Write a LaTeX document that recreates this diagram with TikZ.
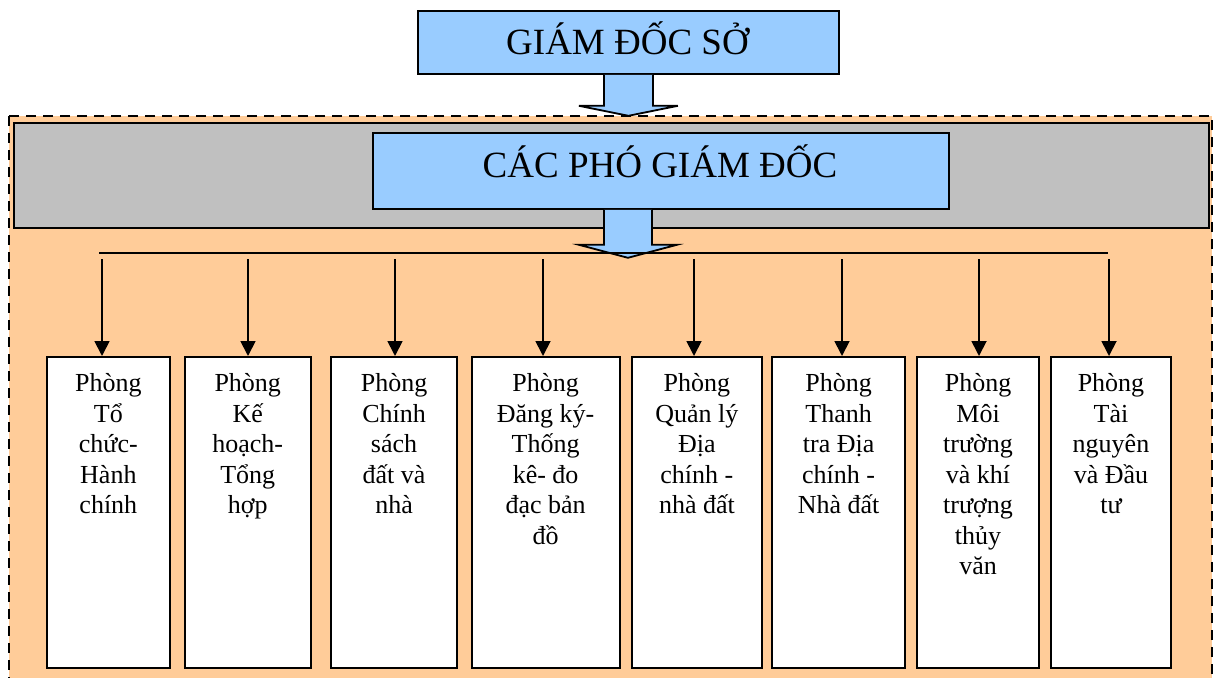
\documentclass[tikz,border=0pt]{standalone}
\usepackage{fontspec}
\setmainfont{Liberation Serif}
\usetikzlibrary{arrows.meta,calc}
\definecolor{boxblue}{HTML}{99CCFF}
\definecolor{panelgray}{HTML}{C0C0C0}
\definecolor{paneltan}{HTML}{FFCC99}
\begin{document}
\begin{tikzpicture}[x=1pt,y=-1pt,
  bluebox/.style={draw=black,fill=boxblue,line width=1.8pt,anchor=north west,inner sep=0pt},
  graybox/.style={draw=black,fill=panelgray,line width=2pt,anchor=north west,inner sep=0pt},
  deptbox/.style={draw=black,fill=white,line width=2pt,anchor=north west,inner sep=0pt,minimum height=311pt},
  titletext/.style={anchor=base,inner sep=0pt,font=\fontsize{37}{44}\selectfont},
  depttext/.style={anchor=north,inner sep=0pt,align=center,font=\fontsize{26}{30.5}\selectfont},
  blockarrow/.style={draw=black,fill=boxblue,line width=1.8pt,line join=miter},
  conn/.style={draw=black,line width=1.8pt},
  arr/.style={conn,-{Triangle[width=15pt,length=15pt]}}
]
\useasboundingbox (0,0) rectangle (1214,677);
\clip (0,0) rectangle (1214,677);

% outer dashed panel
\path[fill=paneltan,draw=black,line width=2pt,dash pattern=on 10pt off 7pt] (9,116) rectangle (1212,720);

% gray band
\node[graybox,minimum width=1195pt,minimum height=105pt] (band) at (13,122) {};

% top boxes
\node[bluebox,minimum width=421pt,minimum height=63pt] (gd) at (417,10) {};
\node[titletext] (gdt) at (627.5,55) {GIÁM ĐỐC SỞ};
\node[bluebox,minimum width=576pt,minimum height=76pt] (pgd) at (372,132) {};
\node[titletext] (pgdt) at (660,177) {CÁC PHÓ GIÁM ĐỐC};

% block arrows
\draw[blockarrow] ($(gd.south)+(-24.5,0)$) -- ++(0,31) -- ++(-25,0) -- ++(49.5,10) -- ++(49.5,-10) -- ++(-25,0) -- ($(gd.south)+(24.5,0)$);
\draw[blockarrow] ($(pgd.south)+(-57,0)$) -- ++(0,35) -- ++(-25,0) -- ++(49,13) -- ++(49,-13) -- ++(-25,0) -- ($(pgd.south)+(-9,0)$);

% distribution line
\coordinate (hl) at (99,253);
\coordinate (hr) at (1108,253);
\draw[conn] (hl) -- (hr);

% department boxes
\node[deptbox,minimum width=123.7pt] (b1) at (45.5,356) {};
\node[deptbox,minimum width=125.7pt] (b2) at (183.9,356) {};
\node[deptbox,minimum width=125.7pt] (b3) at (330.2,356) {};
\node[deptbox,minimum width=148.3pt] (b4) at (470.5,356) {};
\node[deptbox,minimum width=130.8pt] (b5) at (630.5,356) {};
\node[deptbox,minimum width=133.1pt] (b6) at (771.1,356) {};
\node[deptbox,minimum width=121.3pt] (b7) at (916.4,356) {};
\node[deptbox,minimum width=119.4pt] (b8) at (1050.3,356) {};

\node[depttext] (t1) at ($(b1.north)+(0,17.3)$) {Phòng\\Tổ\\chức-\\Hành\\chính};
\node[depttext] (t2) at ($(b2.north)+(0,17.3)$) {Phòng\\Kế\\hoạch-\\Tổng\\hợp};
\node[depttext] (t3) at ($(b3.north)+(0,17.3)$) {Phòng\\Chính\\sách\\đất và\\nhà};
\node[depttext] (t4) at ($(b4.north)+(0,17.3)$) {Phòng\\Đăng ký-\\Thống\\kê- đo\\đạc bản\\đồ};
\node[depttext] (t5) at ($(b5.north)+(0,17.3)$) {Phòng\\Quản lý\\Địa\\chính -\\nhà đất};
\node[depttext] (t6) at ($(b6.north)+(0,17.3)$) {Phòng\\Thanh\\tra Địa\\chính -\\Nhà đất};
\node[depttext] (t7) at ($(b7.north)+(0,17.3)$) {Phòng\\Môi\\trường\\và khí\\trượng\\thủy\\văn};
\node[depttext] (t8) at ($(b8.north)+(0,17.3)$) {Phòng\\Tài\\nguyên\\và Đầu\\tư};

% drop arrows
\foreach \i/\x in {1/102,2/248,3/395,4/543,5/694,6/842,7/979,8/1109}{
  \coordinate (s\i) at (\x,259);
  \draw[arr] (s\i) -- (s\i |- b\i.north);
}
\end{tikzpicture}
\end{document}
